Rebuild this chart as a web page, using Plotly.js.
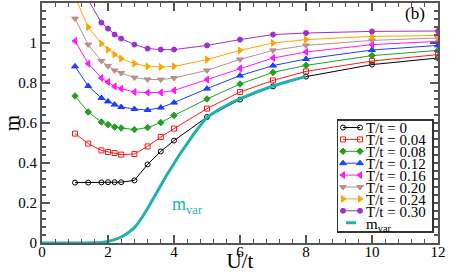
<!DOCTYPE html>
<html><head><meta charset="utf-8">
<script src="https://cdn.plot.ly/plotly-3.0.1.min.js"></script>
<style>html,body{margin:0;padding:0;background:#fff}#chart{width:449px;height:273px}</style>
</head><body><div id="chart"></div>
<script>
// U/t values
var U = [1, 1.4, 1.8, 2.0, 2.2, 2.4, 2.8, 3.2, 3.6, 4, 5, 6, 7, 8, 10, 12];
var U_T030 = [1.4, 1.8, 2.0, 2.2, 2.4, 2.8, 3.2, 3.6, 4, 5, 6, 7, 8, 10, 12];
var m_T000 = [0.302, 0.302, 0.303, 0.304, 0.304, 0.304, 0.313, 0.393, 0.458, 0.512, 0.63, 0.717, 0.783, 0.832, 0.892, 0.925];
var m_T004 = [0.547, 0.497, 0.463, 0.455, 0.45, 0.442, 0.445, 0.483, 0.53, 0.572, 0.672, 0.755, 0.813, 0.858, 0.91, 0.942];
var m_T008 = [0.735, 0.655, 0.605, 0.592, 0.58, 0.575, 0.567, 0.577, 0.602, 0.638, 0.72, 0.795, 0.853, 0.888, 0.937, 0.963];
var m_T012 = [0.883, 0.785, 0.725, 0.708, 0.692, 0.68, 0.67, 0.665, 0.677, 0.702, 0.772, 0.837, 0.887, 0.92, 0.965, 0.988];
var m_T016 = [1.01, 0.897, 0.825, 0.805, 0.783, 0.772, 0.755, 0.752, 0.752, 0.763, 0.817, 0.873, 0.925, 0.955, 0.992, 1.008];
var m_T020 = [1.122, 0.992, 0.91, 0.885, 0.863, 0.85, 0.827, 0.818, 0.817, 0.825, 0.863, 0.918, 0.963, 0.988, 1.013, 1.025];
var m_T024 = [1.23, 1.08, 0.997, 0.967, 0.942, 0.922, 0.897, 0.883, 0.88, 0.883, 0.917, 0.963, 1.0, 1.017, 1.033, 1.038];
var m_T030 = [1.215, 1.102, 1.072, 1.042, 1.022, 0.992, 0.972, 0.967, 0.967, 0.988, 1.017, 1.042, 1.05, 1.058, 1.06];
// variational curve
var U_var = [0, 1, 1.6, 1.8, 2.0, 2.2, 2.4, 2.6, 2.8, 3.0, 3.2, 3.4, 3.6, 3.8, 4.0, 4.2, 4.4, 4.6, 4.8, 5.0, 5.5, 6.0, 6.5, 7.0, 7.5, 8.0];
var m_var = [0, 0, 0.001, 0.003, 0.008, 0.017, 0.03, 0.05, 0.077, 0.12, 0.172, 0.23, 0.288, 0.345, 0.397, 0.45, 0.497, 0.545, 0.588, 0.627, 0.68, 0.722, 0.755, 0.785, 0.81, 0.832];
var legendNames = ["T/t = 0", "T/t = 0.04", "T/t = 0.08", "T/t = 0.12", "T/t = 0.16", "T/t = 0.20", "T/t = 0.24", "T/t = 0.30", "m<sub>var</sub>"];
var xTicks = [0, 2, 4, 6, 8, 10, 12];
var yTicks = [0, 0.2, 0.4, 0.6, 0.8, 1];

var FONT = '"Liberation Serif", "Times New Roman", serif';
var AX = '#555555';
var TEAL = '#1fb3ae';

var series = [
  {x: U, y: m_T000, c: '#000000', s: 'circle-open'},
  {x: U, y: m_T004, c: '#ff1a1a', s: 'square-open'},
  {x: U, y: m_T008, c: '#22a022', s: 'diamond'},
  {x: U, y: m_T012, c: '#1f3fff', s: 'triangle-up'},
  {x: U, y: m_T016, c: '#ff1aff', s: 'triangle-left'},
  {x: U, y: m_T020, c: '#bc8f8f', s: 'triangle-down'},
  {x: U, y: m_T024, c: '#ffa500', s: 'triangle-right'},
  {x: U_T030, y: m_T030, c: '#9a32cd', s: 'circle'}
];
var data = series.map(function(d, i){
  return {x: d.x, y: d.y, name: legendNames[i], type: 'scatter', mode: 'lines+markers',
    line: {color: d.c, width: 1},
    marker: {symbol: d.s, size: d.s.indexOf('triangle') === 0 ? 6 : 5, color: d.c, line: {color: d.c, width: 1}}};
});
data.push({x: U_var, y: m_var, name: legendNames[8], type: 'scatter', mode: 'lines',
  line: {color: TEAL, width: 3, shape: 'spline'}});

var layout = {
  width: 449, height: 273,
  margin: {l: 42, r: 11, t: 3, b: 30},
  paper_bgcolor: '#fff', plot_bgcolor: '#fff',
  font: {family: FONT, size: 15, color: '#000'},
  showlegend: true,
  legend: {x: 0.985, xanchor: 'right', y: 0.517, yanchor: 'top',
    bgcolor: '#fff', bordercolor: '#333', borderwidth: 1.5,
    font: {family: FONT, size: 15}, itemwidth: 30, tracegroupgap: 0},
  xaxis: {range: [0, 12], tickvals: xTicks, ticktext: xTicks.map(String), showgrid: false, zeroline: false,
    ticks: 'inside', ticklen: 8, tickwidth: 1.5, tickcolor: AX, ticklabelstandoff: -6,
    showline: true, linecolor: AX, linewidth: 2, mirror: 'ticks',
    minor: {dtick: 0.4, ticks: 'inside', ticklen: 4, tickwidth: 1.2, tickcolor: AX, showgrid: false},
    tickfont: {family: FONT, size: 15},
    title: {text: 'U/t', font: {family: FONT, size: 21}, standoff: 0}},
  yaxis: {range: [0, 1.2], tickvals: yTicks, ticktext: yTicks.map(String), showgrid: false, zeroline: false,
    ticks: 'inside', ticklen: 8, tickwidth: 1.5, tickcolor: AX,
    showline: true, linecolor: AX, linewidth: 2, mirror: 'ticks',
    minor: {dtick: 0.04, ticks: 'inside', ticklen: 4, tickwidth: 1.2, tickcolor: AX, showgrid: false},
    tickfont: {family: FONT, size: 15},
    title: {text: 'm', font: {family: FONT, size: 21}, standoff: 2}},
  annotations: [
    {xref: 'paper', yref: 'paper', x: 0.943, y: 0.955, xanchor: 'center', yanchor: 'middle',
     text: '(b)', showarrow: false, font: {family: FONT, size: 17, color: '#000'}},
    {xref: 'x', yref: 'y', x: 3.88, y: 0.19, xanchor: 'left', yanchor: 'middle',
     text: 'm<sub>var</sub>', showarrow: false, font: {family: FONT, size: 18, color: TEAL}}
  ]
};

var gd = document.getElementById('chart');
Plotly.newPlot(gd, data, layout, {staticPlot: true, displayModeBar: false}).then(function(){
  var legend = gd.querySelector('g.legend');
  if (!legend) return;
  var items = legend.querySelectorAll('.traces');
  var spacing = 11.9, pad = 7.5, shrink = 12;
  items.forEach(function(el, i){
    var t = el.getAttribute('transform') || '';
    var m = /translate\(([-\d.]+)[ ,]+([-\d.]+)\)/.exec(t);
    var x0 = m ? parseFloat(m[1]) : 1;
    el.setAttribute('transform', 'translate(' + x0 + ',' + (pad + 1 + i * spacing) + ')');
    var isLast = (i === items.length - 1);
    // shorter glyph, markers at both ends
    el.querySelectorAll('.legendlines path').forEach(function(p){
      p.setAttribute('d', isLast ? 'M8,0h10' : 'M5,0h17');
    });
    el.querySelectorAll('.legendpoints .scatterpts path, .legendpoints path.scatterpts').forEach(function(p){
      p.setAttribute('transform', 'translate(5,0)');
      var c = p.cloneNode(true);
      c.setAttribute('transform', 'translate(22,0)');
      p.parentNode.appendChild(c);
    });
    el.querySelectorAll('text.legendtext').forEach(function(tx){
      var x = parseFloat(tx.getAttribute('x')) || 40;
      tx.setAttribute('x', x - shrink);
    });
  });
  var h = 2 * pad + (items.length - 1) * spacing + 2;
  var bg = legend.querySelector('.bg');
  var w = 100;
  if (bg) {
    w = parseFloat(bg.getAttribute('width')) - shrink;
    bg.setAttribute('width', w);
    bg.setAttribute('height', h);
  }
  // legend box: right edge at 432px, top at 119px
  legend.setAttribute('transform', 'translate(' + (432 - w) + ',119)');
  document.querySelectorAll('clipPath[id^="legend"] rect').forEach(function(r){
    r.setAttribute('width', w + 4); r.setAttribute('height', h + 4);
  });
});
</script>
</body></html>
